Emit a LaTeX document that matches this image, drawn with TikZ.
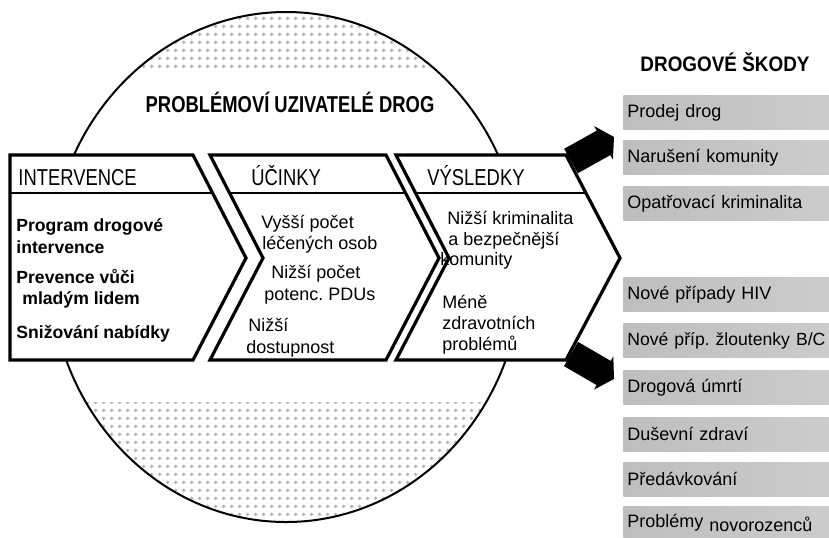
\documentclass[tikz,border=0pt]{standalone}
\usepackage{fontspec}
\setmainfont{Liberation Sans}
\newfontfamily\headfont[FakeStretch=0.8]{Liberation Sans}
\newfontfamily\sidefont[FakeStretch=0.9]{Liberation Sans}
\usetikzlibrary{arrows.meta, patterns.meta}
\definecolor{harmgray}{RGB}{190,190,190}
\definecolor{harmlight}{RGB}{205,205,205}
\definecolor{dotgray}{RGB}{180,180,180}
\frenchspacing

\tikzset{
	chevron/.style={draw, line width=1.6pt, fill=white, line join=miter},
	headline/.style={line width=0.9pt},
	headtext/.style={anchor=base west, inner sep=0pt, font=\headfont\fontsize{11.5}{13}\selectfont},
	intervtext/.style={anchor=base west, inner sep=0pt, font=\bfseries\fontsize{8.8}{10}\selectfont},
	bodytext/.style={anchor=base west, inner sep=0pt, font=\fontsize{9}{10.5}\selectfont},
	harmbox/.style={anchor=north west, left color=harmgray, right color=harmlight, minimum height=17pt, text width=108pt, inner xsep=2pt, inner ysep=0pt, align=left, font=\fontsize{9}{10.5}\selectfont},
	harmarrow/.style={line width=14pt, -{Triangle[length=6pt, width=19pt]}},
	userdots/.style={pattern={Dots[distance=4pt, radius=1.05pt]}, pattern color=dotgray},
}

\begin{document}
\begin{tikzpicture}[x=0.5pt, y=-0.5pt]
		\useasboundingbox (0,0) rectangle (829,537);
		
		% problem drug users
		\begin{scope}
		\clip (286,267) ellipse [x radius=118pt, y radius=127.5pt];
		\fill[userdots] (0,15) rectangle (600,70);
		\fill[userdots] (0,402) rectangle (600,537);
		\end{scope}
		\draw[line width=1pt] (286,267) ellipse [x radius=118pt, y radius=127.5pt];
		\node[font=\headfont\bfseries\fontsize{11.5}{13}\selectfont] (users) at (290,102) {PROBLÉMOVÍ UZIVATELÉ DROG};
		
		% chevrons
		\draw[chevron] (10,155) -- (193,155) -- (246,258) -- (193,360) -- (10,360) -- cycle;
		\draw[chevron] (210,155) -- (386,155) -- (439,258) -- (386,360) -- (210,360) -- (263,258) -- cycle;
		\draw[chevron] (396,155) -- (566,155) -- (620,258) -- (566,360) -- (396,360) -- (449,258) -- cycle;
		\draw[headline] (10,193) -- (212.6,193);
		\draw[headline] (229.6,193) -- (405.6,193);
		\draw[headline] (415.6,193) -- (585.6,193);
		
		\node[headtext] (interv) at (18,185) {INTERVENCE};
		\node[headtext] (effects) at (251,185) {ÚČINKY};
		\node[headtext] (results) at (427,185) {VÝSLEDKY};
		
		\node[intervtext] (i1) at (16,231) {Program drogové};
		\node[intervtext] (i2) at (16,253) {intervence};
		\node[intervtext] (i3) at (16,283) {Prevence vůči};
		\node[intervtext] (i4) at (22,304) {mladým lidem};
		\node[intervtext] (i5) at (16,338) {Snižování nabídky};
		
		\node[bodytext] (e1) at (261,228) {Vyšší počet};
		\node[bodytext] (e2) at (262,249) {léčených osob};
		\node[bodytext] (e3) at (271,278) {Nižší počet};
		\node[bodytext] (e4) at (264,300) {potenc. PDUs};
		\node[bodytext] (e5) at (248,331) {Nižší};
		\node[bodytext] (e6) at (246,353) {dostupnost};
		
		\node[bodytext] (r1) at (447,224) {Nižší kriminalita};
		\node[bodytext] (r2) at (448,245) {a bezpečnější};
		\node[bodytext] (r3) at (440,265) {komunity};
		\node[bodytext] (r4) at (442,308) {Méně};
		\node[bodytext] (r5) at (442,329) {zdravotních};
		\node[bodytext] (r6) at (442,350) {problémů};
		
		% drug harms
		\node[font=\sidefont\bfseries\fontsize{10.5}{12}\selectfont] (harms) at (725,62) {DROGOVÉ ŠKODY};
		\node[harmbox] (h1) at (623,95) {Prodej drog};
		\node[harmbox] (h2) at (623,140) {Narušení komunity};
		\node[harmbox] (h3) at (623,186) {Opatřovací kriminalita};
		\node[harmbox] (h4) at (623,277) {Nové případy HIV};
		\node[harmbox] (h5) at (623,323) {\fontsize{8.8}{10.5}\selectfont Nové příp. žloutenky B/C};
		\node[harmbox] (h6) at (623,370) {Drogová úmrtí};
		\node[harmbox] (h7) at (623,417) {Duševní zdraví};
		\node[harmbox] (h8) at (623,462) {Předávkování};
		\node[harmbox] (h9) at (623,506) {Problémy \raisebox{-2pt}{novorozenců}};
		
		\coordinate (upfrom) at (571,161);
		\coordinate (upto) at (614,137);
		\coordinate (downfrom) at (571,354);
		\coordinate (downto) at (614,379);
		\draw[harmarrow] (upfrom) -- (upto);
		\draw[harmarrow] (downfrom) -- (downto);
		\end{tikzpicture}
\end{document}
